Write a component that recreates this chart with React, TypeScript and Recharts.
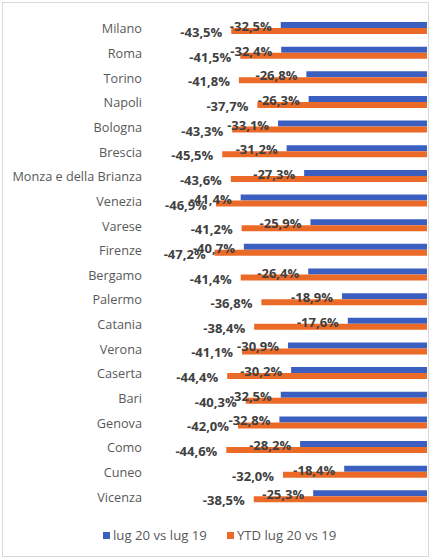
import { BarChart, Bar, XAxis, YAxis, LabelList } from "recharts";

const cities = [
  "Milano", "Roma", "Torino", "Napoli", "Bologna", "Brescia", "Monza e della Brianza",
  "Venezia", "Varese", "Firenze", "Bergamo", "Palermo", "Catania", "Verona",
  "Caserta", "Bari", "Genova", "Como", "Cuneo", "Vicenza",
];
const lugValues = [
  -32.5, -32.4, -26.8, -26.3, -33.1, -31.2, -27.3, -41.4, -25.9, -40.7,
  -26.4, -18.9, -17.6, -30.9, -30.2, -32.5, -32.8, -28.2, -18.4, -25.3,
];
const ytdValues = [
  -43.5, -41.5, -41.8, -37.7, -43.3, -45.5, -43.6, -46.9, -41.2, -47.2,
  -41.4, -36.8, -38.4, -41.1, -44.4, -40.3, -42.0, -44.6, -32.0, -38.5,
];
const seriesNames = ["lug 20 vs lug 19", "YTD lug 20 vs 19"];

const BLUE = "#3A5FC0";
const ORANGE = "#EC6A28";
const FONT = "'Open Sans', sans-serif";

const data = cities.map((city, i) => ({ city, lug: lugValues[i], ytd: ytdValues[i] }));

const fmt = (v: number) => v.toFixed(1).replace(".", ",") + "%";

function CityTick(props: any) {
  const { y, payload } = props;
  return (
    <text x={142} y={y} textAnchor="end" dominantBaseline="central" fill="#595959" fontSize={12.7} fontFamily={FONT}>
      {payload.value}
    </text>
  );
}

function ValueLabel(props: any) {
  const { x, y, width, height, value } = props;
  const left = Math.min(x, x + width);
  return (
    <text x={left - 9} y={y + height / 2 + 1} textAnchor="end" dominantBaseline="central" fill="#404040" fontSize={13} fontWeight="bold" fontFamily={FONT}>
      {fmt(value)}
    </text>
  );
}

function LegendRow() {
  const items = [
    { name: seriesNames[0], color: BLUE },
    { name: seriesNames[1], color: ORANGE },
  ];
  return (
    <div style={{ position: "absolute", left: 103, top: 526, display: "flex", gap: 20, fontFamily: FONT, fontSize: 13.2, color: "#595959" }}>
      {items.map((it) => (
        <div key={it.name} style={{ display: "flex", alignItems: "center" }}>
          <span style={{ width: 7, height: 7, background: it.color, marginRight: 3, display: "inline-block" }} />
          {it.name}
        </div>
      ))}
    </div>
  );
}

export default function App() {
  return (
    <div style={{ position: "relative", width: 430, height: 559, background: "#fff" }}>
      <style>{"body{margin:0}"}</style>
      <div style={{ position: "absolute", left: 2, top: 2, width: 425, height: 553, border: "1px solid #d9d9d9" }} />
      <div style={{ position: "absolute", left: 0, top: 0 }}>
        <BarChart
          width={430}
          height={559}
          data={data}
          layout="vertical"
          margin={{ top: 16, right: 3, bottom: 50, left: 0 }}
          barSize={6}
          barGap={0}
        >
          <XAxis type="number" domain={[-50, 0]} hide />
          <YAxis type="category" dataKey="city" width={202} axisLine={false} tickLine={false} tick={<CityTick />} interval={0} />
          <Bar dataKey="lug" fill={BLUE} isAnimationActive={false}>
            <LabelList dataKey="lug" content={<ValueLabel />} />
          </Bar>
          <Bar dataKey="ytd" fill={ORANGE} isAnimationActive={false}>
            <LabelList dataKey="ytd" content={<ValueLabel />} />
          </Bar>
        </BarChart>
      </div>
      <LegendRow />
    </div>
  );
}
